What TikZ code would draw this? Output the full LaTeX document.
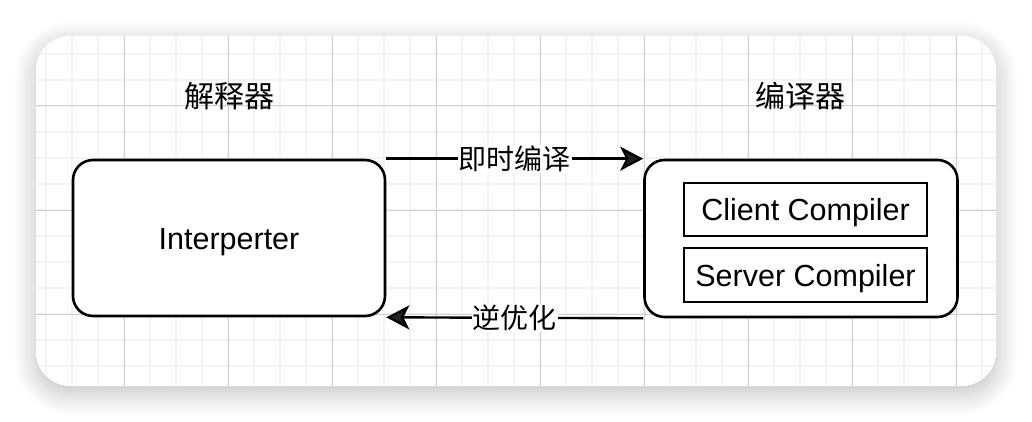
\documentclass[tikz,border=0pt]{standalone}
\usepackage{fontspec}
\setmainfont{Liberation Sans}
\newfontfamily\cjk{Noto Sans CJK SC}
\usetikzlibrary{arrows.meta,shadows.blur}
\definecolor{gridminor}{HTML}{F3F3F3}
\definecolor{gridmajor}{HTML}{D0D0D0}

\tikzset{
  roundbox/.style={draw, line width=2.6pt, rounded corners=20pt, fill=white,
    minimum width=312pt, minimum height=156pt, text height=22pt, text depth=0pt,
    font=\fontsize{30.5}{36}\selectfont},
  innerbox/.style={draw, line width=2.6pt, fill=white, inner sep=0pt,
    minimum width=243pt, minimum height=53pt, text height=22pt, text depth=0pt,
    font=\fontsize{30.5}{36}\selectfont},
  titletext/.style={font=\cjk\fontsize{30}{36}\selectfont},
  flow/.style={line width=2.4pt, -{Stealth[length=23pt,width=24pt,inset=6pt]}},
  flowlabel/.style={fill=white, inner sep=1pt, font=\cjk\fontsize{28}{32}\selectfont}
}

\begin{document}
\begin{tikzpicture}[x=1pt,y=-1pt]
  \useasboundingbox (0,0) rectangle (1032,422);
  % card with shadow
  \fill[white, rounded corners=34pt,
    blur shadow={shadow xshift=0pt, shadow yshift=-7pt, shadow blur radius=22pt,
      shadow blur steps=12, shadow opacity=26}]
    (36,36) rectangle (996,386);
  % grid
  \begin{scope}
    \clip[rounded corners=34pt] (36,36) rectangle (996,386);
    \foreach \x in {20,46,...,1000}
      \draw[gridminor, line width=1.8pt] (\x,30) -- (\x,390);
    \foreach \y in {2,28,...,400}
      \draw[gridminor, line width=1.8pt] (30,\y) -- (1000,\y);
    \foreach \x in {20,124,...,1000}
      \draw[gridmajor, line width=1pt] (\x,30) -- (\x,390);
    \foreach \y in {2,106,...,400}
      \draw[gridmajor, line width=1pt] (30,\y) -- (1000,\y);
  \end{scope}

  % interpreter and compilers
  \node[roundbox] (interp) at (229,238) {Interperter};
  \node[roundbox, minimum width=313pt, minimum height=157pt] (comp) at (801,238.5) {};
  \node[innerbox] (client) at (805.5,209.5) {Client Compiler};
  \node[innerbox, minimum height=54pt] (server) at (805.5,275) {Server Compiler};

  \node[titletext] (interptitle) at (229,96) {解释器};
  \node[titletext] (comptitle) at (800,96) {编译器};

  % arrows
  \draw[flow] (interp.north east) -- node[flowlabel] {即时编译} (comp.north west);
  \draw[flow] (comp.south west) -- node[flowlabel] {逆优化} (interp.south east);
\end{tikzpicture}
\end{document}
